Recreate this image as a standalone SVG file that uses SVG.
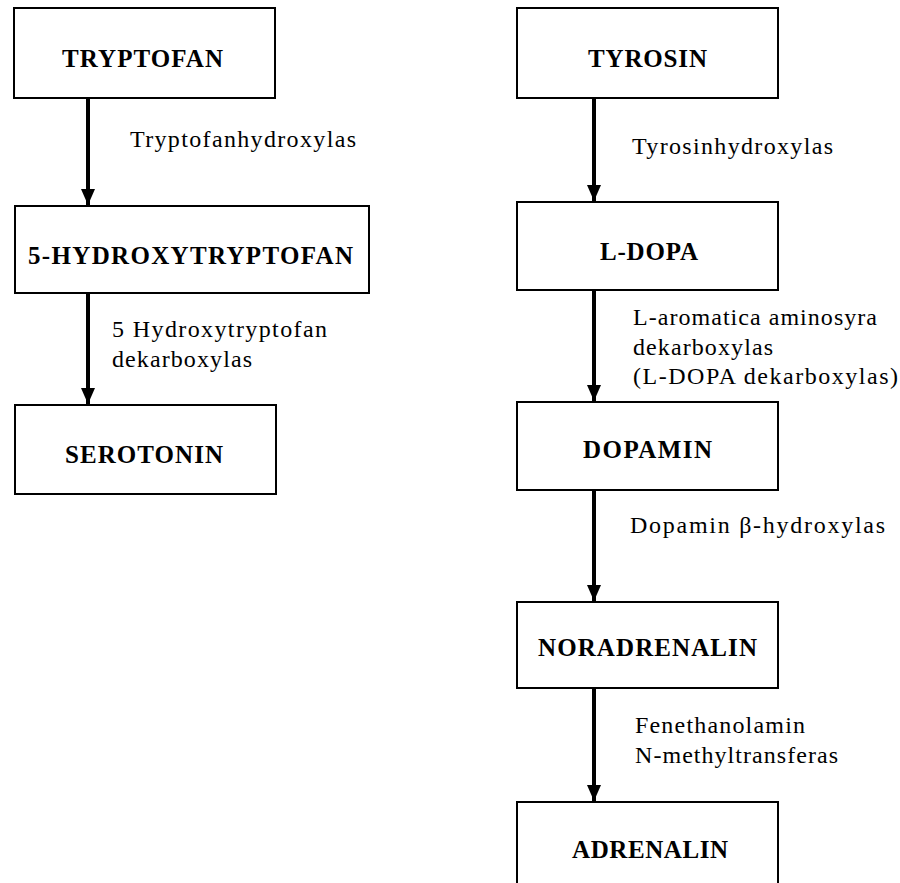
<svg xmlns="http://www.w3.org/2000/svg" width="900" height="883" viewBox="0 0 900 883">
<style>
.box{fill:#fff;stroke:#000;stroke-width:2}
.nt{font-family:"Liberation Serif","Times New Roman",serif;font-weight:bold;font-size:25px;fill:#000}
.lb{font-family:"Liberation Serif","Times New Roman",serif;font-size:24px;fill:#000}
.ar{stroke:#000;stroke-width:4;fill:none}
</style>
<defs>
<marker id="ah" markerUnits="userSpaceOnUse" markerWidth="16" markerHeight="14" refX="16" refY="7" orient="auto">
<path d="M0,0 L16,7 L0,14 Z" fill="#000"/>
</marker>
</defs>
<rect width="900" height="883" fill="#fff"/>
<g id="connectors">
<line class="ar" x1="88" y1="98" x2="88" y2="205" marker-end="url(#ah)"/>
<line class="ar" x1="88" y1="293" x2="88" y2="404" marker-end="url(#ah)"/>
<line class="ar" x1="594" y1="98" x2="594" y2="201" marker-end="url(#ah)"/>
<line class="ar" x1="594" y1="290" x2="594" y2="401" marker-end="url(#ah)"/>
<line class="ar" x1="594" y1="490" x2="594" y2="601" marker-end="url(#ah)"/>
<line class="ar" x1="594" y1="688" x2="594" y2="801" marker-end="url(#ah)"/>
</g>
<g id="labels">
<text class="lb" x="130" y="147" textLength="226" lengthAdjust="spacing">Tryptofanhydroxylas</text>
<text class="lb" x="112" y="337" textLength="215" lengthAdjust="spacing">5 Hydroxytryptofan</text>
<text class="lb" x="112" y="367" textLength="140" lengthAdjust="spacing">dekarboxylas</text>
<text class="lb" x="632" y="154" textLength="201" lengthAdjust="spacing">Tyrosinhydroxylas</text>
<text class="lb" x="633" y="325" textLength="244" lengthAdjust="spacing">L-aromatica aminosyra</text>
<text class="lb" x="633" y="355" textLength="140" lengthAdjust="spacing">dekarboxylas</text>
<text class="lb" x="633" y="384" textLength="265" lengthAdjust="spacing">(L-DOPA dekarboxylas)</text>
<text class="lb" x="630" y="533" textLength="255" lengthAdjust="spacing">Dopamin β-hydroxylas</text>
<text class="lb" x="635" y="733" textLength="170" lengthAdjust="spacing">Fenethanolamin</text>
<text class="lb" x="635" y="763" textLength="203" lengthAdjust="spacing">N-methyltransferas</text>
</g>
<g id="tryptofan">
<rect class="box" x="14" y="8" width="261" height="90"/>
<text class="nt" x="62" y="67" textLength="161" lengthAdjust="spacing">TRYPTOFAN</text>
</g>
<g id="hydroxytryptofan">
<rect class="box" x="15" y="206" width="354" height="87"/>
<text class="nt" x="28" y="264" textLength="325" lengthAdjust="spacing">5-HYDROXYTRYPTOFAN</text>
</g>
<g id="serotonin">
<rect class="box" x="15" y="405" width="261" height="89"/>
<text class="nt" x="65" y="463" textLength="158" lengthAdjust="spacing">SEROTONIN</text>
</g>
<g id="tyrosin">
<rect class="box" x="517" y="8" width="261" height="90"/>
<text class="nt" x="588" y="67" textLength="119" lengthAdjust="spacing">TYROSIN</text>
</g>
<g id="ldopa">
<rect class="box" x="517" y="202" width="261" height="88"/>
<text class="nt" x="600" y="260" textLength="98" lengthAdjust="spacing">L-DOPA</text>
</g>
<g id="dopamin">
<rect class="box" x="517" y="402" width="261" height="88"/>
<text class="nt" x="583" y="458" textLength="129" lengthAdjust="spacing">DOPAMIN</text>
</g>
<g id="noradrenalin">
<rect class="box" x="517" y="602" width="261" height="86"/>
<text class="nt" x="538" y="656" textLength="219" lengthAdjust="spacing">NORADRENALIN</text>
</g>
<g id="adrenalin">
<rect class="box" x="517" y="802" width="261" height="100"/>
<text class="nt" x="572" y="858" textLength="156" lengthAdjust="spacing">ADRENALIN</text>
</g>
</svg>
